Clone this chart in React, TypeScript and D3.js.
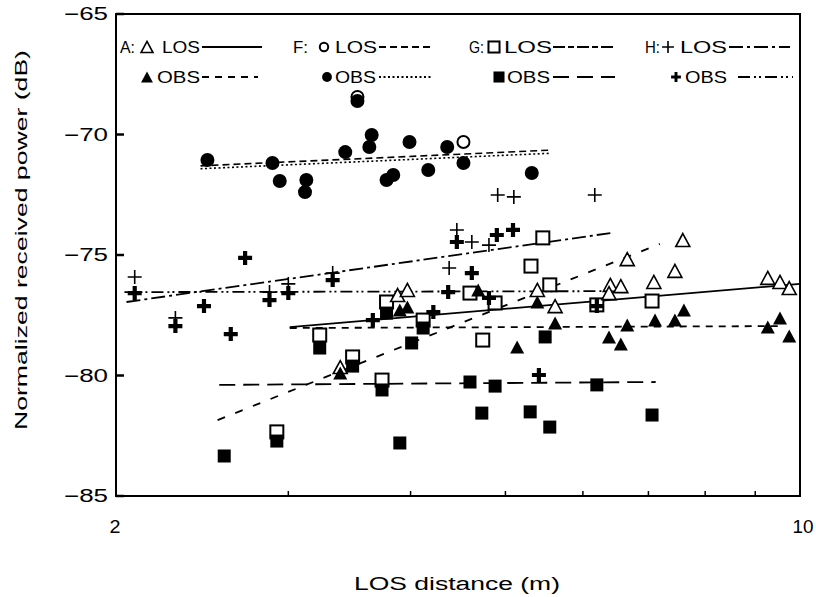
import React from 'react';
import * as d3 from 'd3';

type Pt = [number, number];

// distance (m), normalized received power (dB)
const aLos: Pt[] = [
  [7.59, -74.38], [6.66, -75.17], [7.45, -75.66], [6.40, -76.24], [6.38, -76.58],
  [6.56, -76.29], [7.09, -76.12], [9.27, -75.95], [9.54, -76.12], [9.75, -76.37],
  [5.39, -76.45], [5.62, -77.12], [3.88, -76.66], [3.97, -76.45], [3.39, -79.65],
];
const aObs: Pt[] = [
  [6.66, -77.90], [7.11, -77.70], [7.45, -77.70], [7.61, -77.28], [6.38, -78.40],
  [6.56, -78.69], [9.27, -77.99], [9.54, -77.61], [9.75, -78.36], [4.69, -76.45],
  [5.39, -76.95], [5.62, -77.82], [5.14, -78.82], [3.90, -77.28], [3.97, -77.16],
  [3.39, -79.90],
];
const fLos: Pt[] = [[3.53, -68.44], [4.53, -70.31]];
const fObs: Pt[] = [
  [2.48, -71.06], [2.89, -71.18], [2.94, -71.93], [3.13, -71.89], [3.12, -72.39],
  [3.43, -70.73], [3.53, -68.61], [3.65, -70.02], [3.63, -70.52], [3.78, -71.89],
  [3.84, -71.68], [3.99, -70.31], [4.17, -71.47], [4.36, -70.52], [4.53, -71.18],
  [5.32, -71.60],
];
const gLos: Pt[] = [
  [3.23, -78.32], [3.78, -76.95], [3.49, -79.23], [3.74, -80.19], [4.12, -77.70],
  [2.92, -82.34], [4.74, -78.53], [5.31, -75.46], [5.46, -74.29], [7.06, -76.91],
  [5.55, -76.24], [4.60, -76.58], [4.88, -76.99], [6.20, -77.07],
];
const gObs: Pt[] = [
  [3.23, -78.86], [3.78, -77.41], [3.49, -79.61], [3.74, -80.60], [4.01, -78.65],
  [4.12, -78.03], [2.92, -82.72], [2.58, -83.34], [3.90, -82.80], [4.73, -81.56],
  [5.30, -81.51], [5.55, -82.14], [7.06, -81.64], [4.60, -80.27], [4.88, -80.44],
  [6.20, -80.39], [5.49, -78.40],
];
const hLos: Pt[] = [
  [2.09, -75.91], [2.30, -77.61], [2.87, -76.54], [3.00, -76.20], [3.33, -75.75],
  [4.46, -73.96], [4.38, -75.54], [4.62, -74.46], [4.81, -74.59], [4.91, -72.51],
  [5.10, -72.59], [6.17, -72.51],
];
const hObs: Pt[] = [
  [2.09, -76.58], [2.71, -75.12], [2.46, -77.12], [2.30, -77.95], [2.62, -78.28],
  [2.87, -76.87], [3.00, -76.58], [3.33, -76.04], [4.37, -76.54], [4.22, -77.37],
  [3.66, -77.70], [4.46, -74.46], [4.90, -74.17], [5.09, -73.96], [4.62, -75.75],
  [4.81, -76.78], [6.20, -77.12], [5.41, -79.98],
];

// regression lines (end points)
const fitALos: Pt[] = [[3.01, -77.99], [10, -76.2]];
const fitAObs: Pt[] = [[3.01, -78.03], [9.6, -77.95]];
const fitFLos: Pt[] = [[2.44, -71.3], [5.55, -70.65]];
const fitFObs: Pt[] = [[2.44, -71.42], [5.55, -70.78]];
const fitGLos: Pt[] = [[2.54, -81.85], [7.19, -74.54]];
const fitGObs: Pt[] = [[2.55, -80.39], [7.12, -80.27]];
const fitHLos: Pt[] = [[2.05, -76.95], [6.4, -74.09]];
const fitHObs: Pt[] = [[2.04, -76.54], [6.55, -76.5]];

const yTicks = [-85, -80, -75, -70, -65];
const xMinorTicks = [3, 4, 5, 6, 7, 8, 9];
const xLabels = [2, 10];

type Kind = 'triO' | 'triF' | 'cirO' | 'cirF' | 'sqO' | 'sqF' | 'plus' | 'plusB';

const FONT = '"Liberation Sans", Arial, sans-serif';

function Marker({ kind, cx, cy, s = 1 }: { kind: Kind; cx: number; cy: number; s?: number }) {
  switch (kind) {
    case 'triO':
    case 'triF': {
      const w = 7 * s, h = 6.5 * s;
      const p = `M${cx},${cy - h} L${cx + w},${cy + h} L${cx - w},${cy + h} Z`;
      return kind === 'triO'
        ? <path d={p} fill="#fff" stroke="#000" strokeWidth={1.6} />
        : <path d={p} fill="#000" />;
    }
    case 'cirO':
      return <circle cx={cx} cy={cy} r={6 * s} fill="#fff" stroke="#000" strokeWidth={2} />;
    case 'cirF':
      return <circle cx={cx} cy={cy} r={7 * s} fill="#000" />;
    case 'sqO':
      return <rect x={cx - 6.5 * s} y={cy - 6.5 * s} width={13 * s} height={13 * s} fill="#fff" stroke="#000" strokeWidth={2} />;
    case 'sqF':
      return <rect x={cx - 6.5 * s} y={cy - 6.5 * s} width={13 * s} height={13 * s} fill="#000" />;
    case 'plus':
      return (
        <path d={`M${cx - 7 * s},${cy} H${cx + 7 * s} M${cx},${cy - 7 * s} V${cy + 7 * s}`}
          stroke="#000" strokeWidth={1.6} />
      );
    case 'plusB':
      return (
        <path d={`M${cx - 7 * s},${cy} H${cx + 7 * s} M${cx},${cy - 7 * s} V${cy + 7 * s}`}
          stroke="#000" strokeWidth={4.2 * s} />
      );
  }
  return null;
}

export default function App() {
  const x = d3.scaleLog().domain([2, 10]).range([116, 800]);
  const y = d3.scaleLinear().domain([-85, -65]).range([496, 14]);
  const line = d3.line<Pt>().x(d => x(d[0])).y(d => y(d[1]));

  const fits: { data: Pt[]; dash: string; w: number }[] = [
    { data: fitALos, dash: '', w: 1.8 },
    { data: fitAObs, dash: '7,6', w: 1.8 },
    { data: fitFLos, dash: '7,4', w: 1.6 },
    { data: fitFObs, dash: '2,2.5', w: 1.6 },
    { data: fitGLos, dash: '8,11', w: 1.8 },
    { data: fitGObs, dash: '16,8', w: 1.8 },
    { data: fitHLos, dash: '14,4,3,4', w: 1.8 },
    { data: fitHObs, dash: '12,4,2,3,2,4', w: 1.8 },
  ];

  // LOS drawn first so OBS markers sit over them
  const series: { data: Pt[]; kind: Kind }[] = [
    { data: fLos, kind: 'cirO' },
    { data: fObs, kind: 'cirF' },
    { data: gLos, kind: 'sqO' },
    { data: gObs, kind: 'sqF' },
    { data: aLos, kind: 'triO' },
    { data: aObs, kind: 'triF' },
    { data: hLos, kind: 'plus' },
    { data: hObs, kind: 'plusB' },
  ];

  const legend = [
    { tag: 'A:', tagX: 120, sym: 'triO' as Kind, symX: 147, label: 'LOS', lx0: 162, lx1: 200, line: [202, 262], dash: '', row: 47 },
    { tag: 'F:', tagX: 293, sym: 'cirO' as Kind, symX: 324, label: 'LOS', lx0: 335, lx1: 377, line: [379, 433], dash: '7,4', row: 47 },
    { tag: 'G:', tagX: 469, sym: 'sqO' as Kind, symX: 494, label: 'LOS', lx0: 504, lx1: 552, line: [553, 615], dash: '12,3,6,3', row: 47 },
    { tag: 'H:', tagX: 645, sym: 'plus' as Kind, symX: 668, label: 'LOS', lx0: 680, lx1: 727, line: [729, 790], dash: '14,4,3,4', row: 47 },
    { tag: '', tagX: 0, sym: 'triF' as Kind, symX: 147, label: 'OBS', lx0: 157, lx1: 200, line: [202, 258], dash: '7,6', row: 77 },
    { tag: '', tagX: 0, sym: 'cirF' as Kind, symX: 327, label: 'OBS', lx0: 335, lx1: 376, line: [379, 433], dash: '2,2.5', row: 77 },
    { tag: '', tagX: 0, sym: 'sqF' as Kind, symX: 499, label: 'OBS', lx0: 507, lx1: 550, line: [553, 615], dash: '16,8', row: 77 },
    { tag: '', tagX: 0, sym: 'plusB' as Kind, symX: 676, label: 'OBS', lx0: 685, lx1: 727, line: [738, 793], dash: '12,4,2,3,2,4', row: 77 },
  ];

  return (
    <svg width={816} height={597} viewBox="0 0 816 597"
      style={{ position: 'absolute', left: 0, top: 0, background: '#fff', fontFamily: FONT }}>
      <rect x={0} y={0} width={816} height={597} fill="#fff" />

      {/* frame */}
      <path d="M116,14 H800 V496 H116 Z" fill="none" stroke="#000" strokeWidth={2} />

      {/* y ticks and labels */}
      {yTicks.map(t => (
        <g key={`yt${t}`}>
          <line x1={116} x2={124} y1={y(t)} y2={y(t)} stroke="#000" strokeWidth={2.5} />
          <text x={108} y={y(t)} dy="0.36em" textAnchor="end" fontSize={18} textLength={44}
            lengthAdjust="spacingAndGlyphs">{`\u2212${Math.abs(t)}`}</text>
        </g>
      ))}

      {/* x ticks and labels */}
      {xMinorTicks.map(t => (
        <line key={`xt${t}`} x1={x(t)} x2={x(t)} y1={496} y2={491} stroke="#000" strokeWidth={1.5} />
      ))}
      {xLabels.map(t => (
        <text key={`xl${t}`} x={t === 10 ? x(t) + 3 : x(t) - 1} y={533} textAnchor="middle" fontSize={18}
          textLength={t === 10 ? 21 : 11} lengthAdjust="spacingAndGlyphs">{t}</text>
      ))}

      {/* axis titles */}
      <text x={457} y={590} textAnchor="middle" fontSize={18} textLength={206}
        lengthAdjust="spacingAndGlyphs">LOS  distance  (m)</text>
      <text transform="translate(27,240) rotate(-90)" textAnchor="middle" fontSize={17}
        textLength={380} lengthAdjust="spacingAndGlyphs">Normalized received power (dB)</text>

      {/* fit lines */}
      {fits.map((f, i) => (
        <path key={`fit${i}`} d={line(f.data) || ''} fill="none" stroke="#000"
          strokeWidth={f.w} strokeDasharray={f.dash || undefined} />
      ))}

      {/* markers */}
      {series.map((s, i) => (
        <g key={`s${i}`}>
          {s.data.map((d, j) => (
            <Marker key={j} kind={s.kind} cx={x(d[0])} cy={y(d[1])} />
          ))}
        </g>
      ))}

      {/* legend */}
      {legend.map((l, i) => (
        <g key={`lg${i}`}>
          {l.tag && (
            <text x={l.tagX} y={l.row} dy="0.36em" fontSize={17} textLength={15}
              lengthAdjust="spacingAndGlyphs">{l.tag}</text>
          )}
          <Marker kind={l.sym} cx={l.symX} cy={l.row} s={l.sym === 'cirO' || l.sym === 'cirF' ? 0.7 : l.sym === 'plusB' ? 0.7 : 0.85} />
          <text x={l.lx0} y={l.row} dy="0.36em" fontSize={17} textLength={l.lx1 - l.lx0}
            lengthAdjust="spacingAndGlyphs">{l.label}</text>
          <line x1={l.line[0]} x2={l.line[1]} y1={l.row} y2={l.row} stroke="#000" strokeWidth={1.8}
            strokeDasharray={l.dash || undefined} />
        </g>
      ))}
    </svg>
  );
}
